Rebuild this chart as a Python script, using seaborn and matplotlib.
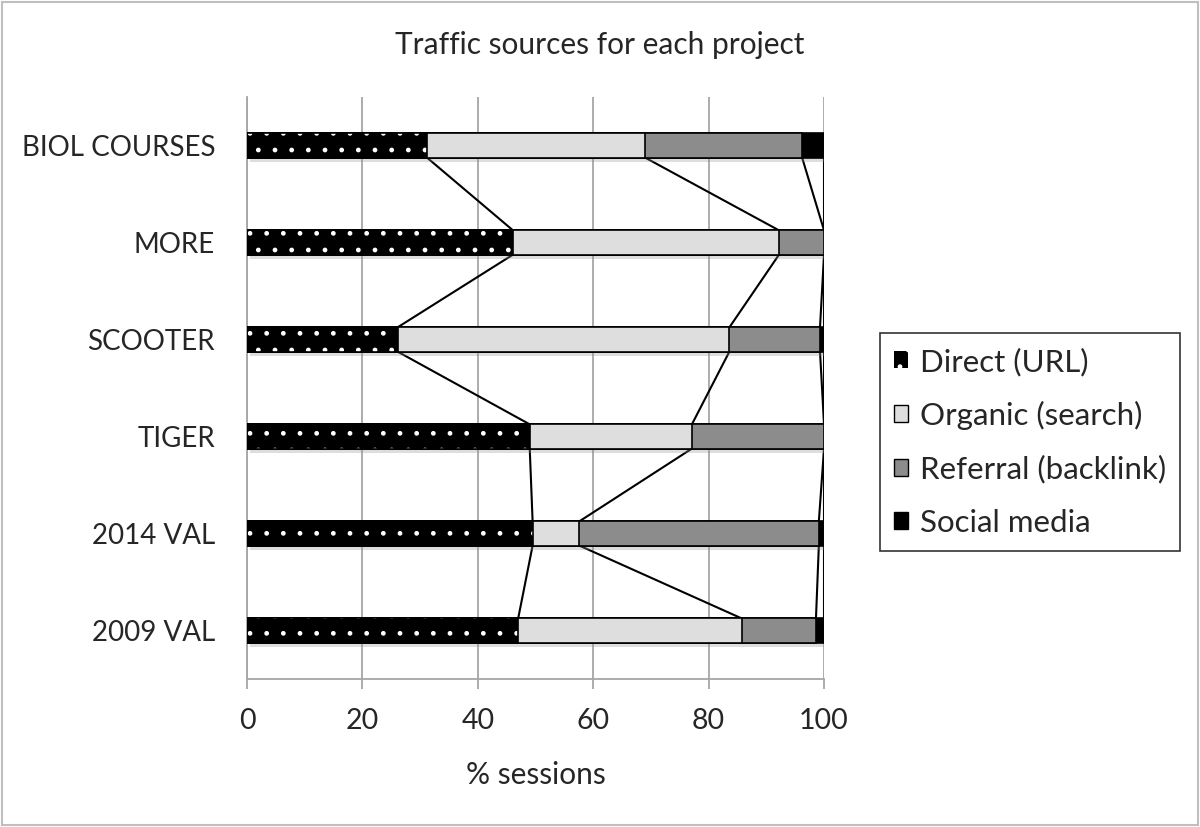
import numpy as np
import pandas as pd
import seaborn as sns
import matplotlib.pyplot as plt
import matplotlib.patheffects as pe
from matplotlib.patches import Patch, Rectangle

projects = ['BIOL COURSES', 'MORE', 'SCOOTER', 'TIGER', '2014 VAL', '2009 VAL']
direct = [31.2, 46.1, 26.1, 49.0, 49.5, 47.0]
organic = [37.8, 46.1, 57.5, 28.1, 8.1, 38.7]
referral = [27.2, 7.8, 15.7, 22.9, 41.5, 12.9]
social = [3.8, 0.0, 0.7, 0.0, 0.9, 1.4]

series_names = ['Direct (URL)', 'Organic (search)', 'Referral (backlink)', 'Social media']
series_colors = ['black', '#dedede', '#8c8c8c', 'black']

sns.set_theme(style='white')
plt.rcParams['font.family'] = ['Lato', 'DejaVu Sans']
plt.rcParams['hatch.linewidth'] = 1.0

df = pd.DataFrame({'project': projects, 'direct': direct, 'organic': organic,
                   'referral': referral, 'social': social})
df['c1'] = df['direct']
df['c2'] = df['c1'] + df['organic']
df['c3'] = df['c2'] + df['referral']
df['c4'] = df['c3'] + df['social']

fig = plt.figure(figsize=(12, 8.27), dpi=100)
ax = fig.add_axes([0.2058, 0.179, 0.4809, 0.7037])

bw = 0.25
# stacked by drawing cumulative totals, widest first
sns.barplot(data=df, x='c4', y='project', color=series_colors[3], width=bw, orient='h',
            edgecolor='black', linewidth=1.2, ax=ax, zorder=3, saturation=1)
for p in ax.patches:
    p.set_path_effects([pe.withSimplePatchShadow(offset=(2, -3), shadow_rgbFace='#909090', alpha=0.3)])
sns.barplot(data=df, x='c3', y='project', color=series_colors[2], width=bw, orient='h',
            edgecolor='black', linewidth=1.2, ax=ax, zorder=3, saturation=1)
sns.barplot(data=df, x='c2', y='project', color=series_colors[1], width=bw, orient='h',
            edgecolor='black', linewidth=1.2, ax=ax, zorder=3, saturation=1)
sns.barplot(data=df, x='c1', y='project', color='black', width=bw, orient='h',
            edgecolor='white', linewidth=0, hatch='.', ax=ax, zorder=3, saturation=1)
sns.barplot(data=df, x='c1', y='project', width=bw, orient='h', fill=False,
            edgecolor='black', linewidth=1.2, ax=ax, zorder=3)

# series lines between bar boundaries
ypos = np.arange(len(projects))
for col in ['c1', 'c2', 'c3', 'c4']:
    vals = df[col].values
    for i in range(len(projects) - 1):
        ax.plot([vals[i], vals[i + 1]], [ypos[i] + bw / 2, ypos[i + 1] - bw / 2],
                color='black', lw=1.5, zorder=2)

ax.set_xlim(0, 100)
ax.set_ylim(5.5, -0.5)
ax.set_xticks(range(0, 101, 20))
ax.xaxis.grid(True, color='#a6a6a6', lw=1.3, zorder=0)
ax.set_axisbelow(True)
for s in ['top', 'right']:
    ax.spines[s].set_visible(False)
for s in ['left', 'bottom']:
    ax.spines[s].set_color('#a6a6a6')
    ax.spines[s].set_linewidth(1.3)
ax.tick_params(axis='x', bottom=True, length=7, width=1.3, color='#a6a6a6',
               labelsize=20.5, pad=14)
ax.tick_params(axis='y', left=False, labelsize=20, pad=17)
ax.set_ylabel('')
ax.set_xlabel('% sessions', fontsize=21.5, labelpad=19)

fig.text(0.5, 1 - 45 / 827, 'Traffic sources for each project', ha='center', va='center', fontsize=21.5)

handles = [Patch(facecolor='black', edgecolor='white', hatch='.', lw=0),
           Patch(facecolor=series_colors[1], edgecolor='black', lw=1),
           Patch(facecolor=series_colors[2], edgecolor='black', lw=1),
           Patch(facecolor='black', edgecolor='black', lw=1)]
leg = fig.legend(handles, series_names, loc='center left', bbox_to_anchor=(880 / 1200, 1 - 442 / 827),
                 bbox_transform=fig.transFigure, fontsize=22.5, frameon=True, fancybox=False,
                 edgecolor='black', handlelength=0.46, handleheight=0.46, handletextpad=0.36,
                 labelspacing=0.8, borderpad=0.45, borderaxespad=0)
leg.get_frame().set_linewidth(1.2)

fig.patches.append(Rectangle((0.002, 0.002), 0.996, 0.996, transform=fig.transFigure,
                             fill=False, edgecolor='#bfbfbf', lw=1.5))

fig.savefig('out.png', dpi=100)
